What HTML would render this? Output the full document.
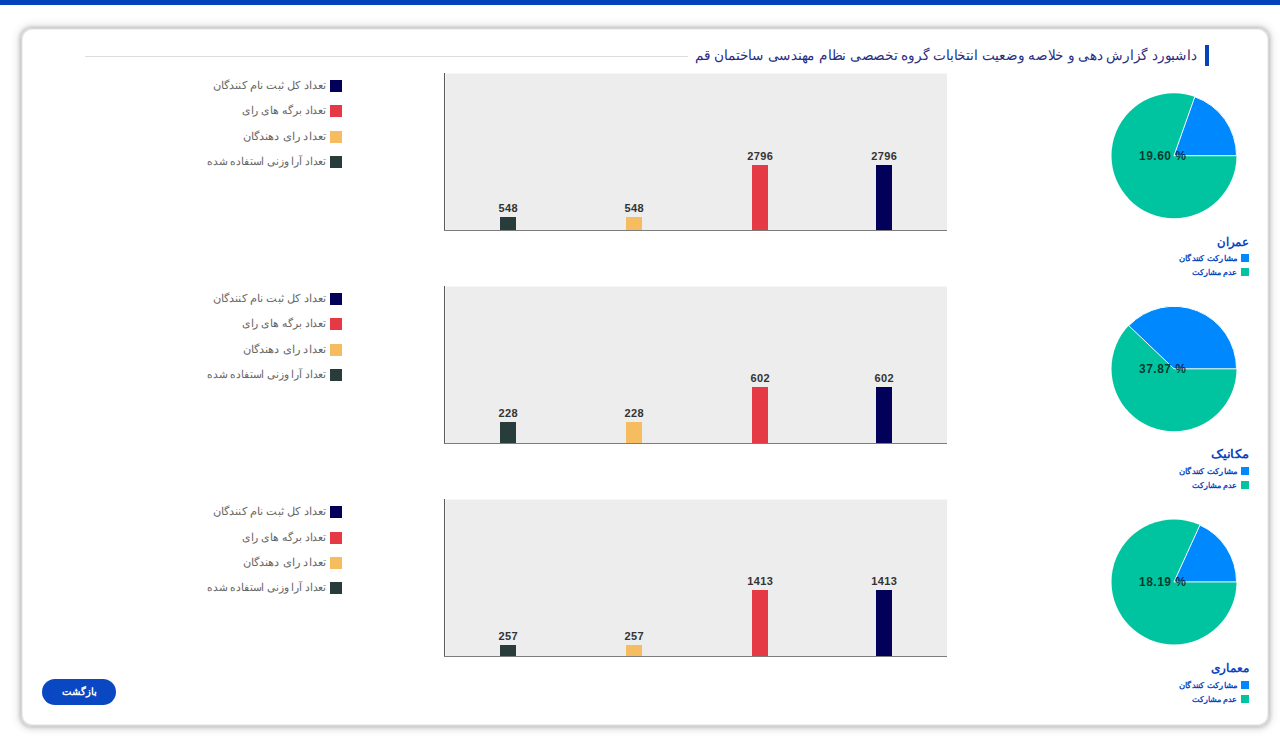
<!DOCTYPE html>
<html lang="fa"><head><meta charset="utf-8"><title>dashboard</title>
<style>
*{box-sizing:border-box;margin:0;padding:0}
html,body{width:1280px;height:750px;overflow:hidden;background:#fff;font-family:"Liberation Sans",sans-serif}
.abs{position:absolute}
#topbar{position:absolute;left:0;top:0;width:1280px;height:5px;background:#0444b8}
#card{position:absolute;left:20px;top:27px;width:1250px;height:700px;border-radius:12px;background:#fff;border:1px solid #d0d0d0;box-shadow:0 0 0 1px rgba(0,0,0,.03),0 0 3px 2px rgba(0,0,0,.07),0 0 8px 3px rgba(0,0,0,.08),0 3px 6px rgba(0,0,0,.04),inset 0 0 0 1px rgba(0,0,0,.1),inset 0 0 0 2px rgba(0,0,0,.06)}
.title{position:absolute;right:83px;top:44.5px;font-size:14px;color:#2b2d7e;white-space:nowrap;direction:rtl;line-height:20px;transform:scaleX(0.971);transform-origin:100% 50%}
.tbar{position:absolute;left:1205px;top:45px;width:4px;height:21px;background:#0444b8}
.hline{position:absolute;left:85px;top:56px;width:603px;height:1px;background:#ddd}
.lg{position:absolute;right:954px;font-size:11px;color:#666;white-space:nowrap;direction:rtl;line-height:14px}
.sq{position:absolute;left:330px;width:12px;height:12px}
.plot{position:absolute;left:445px;width:502px;background:#ededed;border-left:1px solid #f4f4f4;border-top:1px solid #f6f6f6}
.yax{position:absolute;left:444px;width:1px;background:#5a5a5a}
.xax{position:absolute;left:444px;width:503px;height:1px;background:#7c7c7c}
.bar{position:absolute;width:16px}
.bl{position:absolute;width:40px;text-align:center;font-size:11px;font-weight:bold;color:#333;line-height:11px;letter-spacing:.4px;text-indent:.4px}
.pt{position:absolute;right:31px;font-size:12px;font-weight:bold;color:#0a45c0;white-space:nowrap;direction:rtl;line-height:16px}
.ps{position:absolute;left:1241px;width:8px;height:8px}
.pl{position:absolute;right:43px;font-size:8px;font-weight:bold;color:#0a45c0;white-space:nowrap;direction:rtl;line-height:12px;transform-origin:100% 50%}
.pct{position:absolute;font-size:12px;font-weight:bold;color:rgba(0,0,0,.72);white-space:nowrap;line-height:12px;letter-spacing:.5px}
#btn{position:absolute;left:42px;top:679px;width:74px;height:26px;border-radius:13px;background:#0a47c2;color:#fff;font-size:10px;font-weight:bold;text-align:center;line-height:26px;direction:rtl}
</style></head><body>
<div id="topbar"></div>
<div id="card"></div>
<div class="tbar"></div>
<div class="hline"></div>
<div class="title">داشبورد گزارش دهی و خلاصه وضعیت انتخابات گروه تخصصی نظام مهندسی ساختمان قم</div>

<div class="sq" style="top:80px;background:#020058"></div>
<div class="lg" style="top:78px;transform:scaleX(1.03);transform-origin:100% 50%">تعداد کل ثبت نام کنندگان</div>
<div class="sq" style="top:105px;background:#e63946"></div>
<div class="lg" style="top:103px;transform:scaleX(0.98);transform-origin:100% 50%">تعداد برگه های رای</div>
<div class="sq" style="top:131px;background:#f6bd60"></div>
<div class="lg" style="top:129px;transform:scaleX(1.03);transform-origin:100% 50%">تعداد رای دهندگان</div>
<div class="sq" style="top:156px;background:#283d3b"></div>
<div class="lg" style="top:154px;transform:scaleX(0.967);transform-origin:100% 50%">تعداد آرا وزنی استفاده شده</div>
<div class="plot" style="top:73px;height:157px"></div>
<div class="yax" style="top:73px;height:158px"></div>
<div class="xax" style="top:230px"></div>
<div class="bar" style="left:500px;top:217px;height:13px;background:#283d3b"></div>
<div class="bl" style="left:488px;top:203px">548</div>
<div class="bar" style="left:626px;top:217px;height:13px;background:#f6bd60"></div>
<div class="bl" style="left:614px;top:203px">548</div>
<div class="bar" style="left:752px;top:165px;height:65px;background:#e63946"></div>
<div class="bl" style="left:740px;top:151px">2796</div>
<div class="bar" style="left:876px;top:165px;height:65px;background:#020058"></div>
<div class="bl" style="left:864px;top:151px">2796</div>
<svg class="abs" style="left:0;top:0px" width="1280" height="240" viewBox="0 0 1280 240"><circle cx="1174" cy="155.7" r="62.5" fill="#00c49f"/><path d="M1174,155.7 L1236.5,155.7 A62.5,62.5 0 0 0 1194.80,96.76 Z" fill="#0088fe" stroke="#fff" stroke-width="1"/></svg>
<div class="pct" style="left:1139px;top:150.2px">19.60 %</div>
<div class="pt" style="top:234px;transform:scaleX(0.97);transform-origin:100% 50%">عمران</div>
<div class="ps" style="top:254px;background:#0088fe"></div>
<div class="ps" style="top:268px;background:#00c49f"></div>
<div class="pl" style="top:253px;transform:scaleX(1.055)">مشارکت کنندگان</div>
<div class="pl" style="top:267px">عدم مشارکت</div>
<div class="sq" style="top:293px;background:#020058"></div>
<div class="lg" style="top:291px;transform:scaleX(1.03);transform-origin:100% 50%">تعداد کل ثبت نام کنندگان</div>
<div class="sq" style="top:318px;background:#e63946"></div>
<div class="lg" style="top:316px;transform:scaleX(0.98);transform-origin:100% 50%">تعداد برگه های رای</div>
<div class="sq" style="top:344px;background:#f6bd60"></div>
<div class="lg" style="top:342px;transform:scaleX(1.03);transform-origin:100% 50%">تعداد رای دهندگان</div>
<div class="sq" style="top:369px;background:#283d3b"></div>
<div class="lg" style="top:367px;transform:scaleX(0.967);transform-origin:100% 50%">تعداد آرا وزنی استفاده شده</div>
<div class="plot" style="top:286px;height:157px"></div>
<div class="yax" style="top:286px;height:158px"></div>
<div class="xax" style="top:443px"></div>
<div class="bar" style="left:500px;top:422px;height:21px;background:#283d3b"></div>
<div class="bl" style="left:488px;top:408px">228</div>
<div class="bar" style="left:626px;top:422px;height:21px;background:#f6bd60"></div>
<div class="bl" style="left:614px;top:408px">228</div>
<div class="bar" style="left:752px;top:387px;height:56px;background:#e63946"></div>
<div class="bl" style="left:740px;top:373px">602</div>
<div class="bar" style="left:876px;top:387px;height:56px;background:#020058"></div>
<div class="bl" style="left:864px;top:373px">602</div>
<svg class="abs" style="left:0;top:213px" width="1280" height="240" viewBox="0 213 1280 240"><circle cx="1174" cy="368.8" r="62.5" fill="#00c49f"/><path d="M1174,368.8 L1236.5,368.8 A62.5,62.5 0 0 0 1128.79,325.65 Z" fill="#0088fe" stroke="#fff" stroke-width="1"/></svg>
<div class="pct" style="left:1139px;top:363.3px">37.87 %</div>
<div class="pt" style="top:446px;transform:scaleX(1.1);transform-origin:100% 50%">مکانیک</div>
<div class="ps" style="top:467px;background:#0088fe"></div>
<div class="ps" style="top:481px;background:#00c49f"></div>
<div class="pl" style="top:466px;transform:scaleX(1.055)">مشارکت کنندگان</div>
<div class="pl" style="top:480px">عدم مشارکت</div>
<div class="sq" style="top:506px;background:#020058"></div>
<div class="lg" style="top:504px;transform:scaleX(1.03);transform-origin:100% 50%">تعداد کل ثبت نام کنندگان</div>
<div class="sq" style="top:532px;background:#e63946"></div>
<div class="lg" style="top:530px;transform:scaleX(0.98);transform-origin:100% 50%">تعداد برگه های رای</div>
<div class="sq" style="top:557px;background:#f6bd60"></div>
<div class="lg" style="top:555px;transform:scaleX(1.03);transform-origin:100% 50%">تعداد رای دهندگان</div>
<div class="sq" style="top:582px;background:#283d3b"></div>
<div class="lg" style="top:580px;transform:scaleX(0.967);transform-origin:100% 50%">تعداد آرا وزنی استفاده شده</div>
<div class="plot" style="top:499px;height:157px"></div>
<div class="yax" style="top:499px;height:158px"></div>
<div class="xax" style="top:656px"></div>
<div class="bar" style="left:500px;top:645px;height:11px;background:#283d3b"></div>
<div class="bl" style="left:488px;top:631px">257</div>
<div class="bar" style="left:626px;top:645px;height:11px;background:#f6bd60"></div>
<div class="bl" style="left:614px;top:631px">257</div>
<div class="bar" style="left:752px;top:590px;height:66px;background:#e63946"></div>
<div class="bl" style="left:740px;top:576px">1413</div>
<div class="bar" style="left:876px;top:590px;height:66px;background:#020058"></div>
<div class="bl" style="left:864px;top:576px">1413</div>
<svg class="abs" style="left:0;top:426px" width="1280" height="240" viewBox="0 426 1280 240"><circle cx="1174" cy="581.9" r="62.5" fill="#00c49f"/><path d="M1174,581.9 L1236.5,581.9 A62.5,62.5 0 0 0 1199.93,525.03 Z" fill="#0088fe" stroke="#fff" stroke-width="1"/></svg>
<div class="pct" style="left:1139px;top:576.4px">18.19 %</div>
<div class="pt" style="top:660px;transform:scaleX(1.0);transform-origin:100% 50%">معماری</div>
<div class="ps" style="top:681px;background:#0088fe"></div>
<div class="ps" style="top:695px;background:#00c49f"></div>
<div class="pl" style="top:680px;transform:scaleX(1.055)">مشارکت کنندگان</div>
<div class="pl" style="top:694px">عدم مشارکت</div>
<div id="btn">بازگشت</div>
</body></html>
